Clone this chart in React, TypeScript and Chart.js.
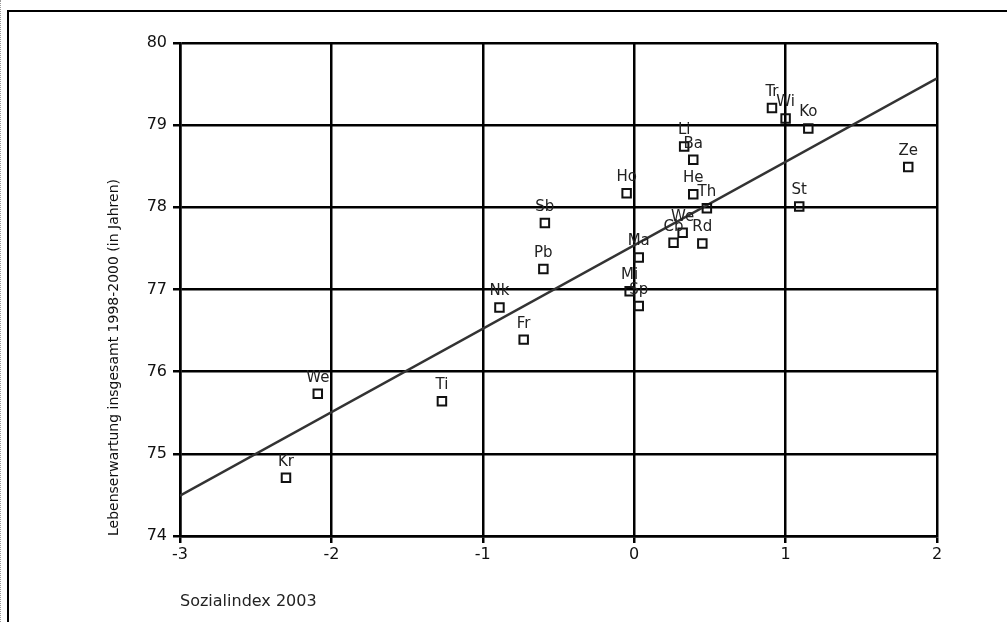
import React, { useEffect, useRef } from "react";
import { Chart, registerables } from "chart.js";

Chart.register(...registerables);

// District abbreviations (point labels)
const districts = [
  "Kr", "We", "Ti", "Nk", "Fr", "Pb", "Sb", "Ho", "Ma", "Mi", "Sp", "We",
  "Cb", "Rd", "Li", "Ba", "He", "Th", "Tr", "Wi", "Ko", "St", "Ze",
];
// Sozialindex 2003 (x)
const socialIndex = [
  -2.3, -2.09, -1.27, -0.89, -0.73, -0.6, -0.59, -0.05, 0.03, -0.03, 0.03, 0.32,
  0.26, 0.45, 0.33, 0.39, 0.39, 0.48, 0.91, 1.0, 1.15, 1.09, 1.81,
];
// Lebenserwartung 1998-2000 (y)
const lifeExpectancy = [
  74.71, 75.73, 75.64, 76.78, 76.39, 77.25, 77.81, 78.17, 77.39, 76.98, 76.8, 77.69,
  77.57, 77.56, 78.74, 78.58, 78.16, 77.99, 79.21, 79.08, 78.96, 78.01, 78.49,
];
// Linear trend line end points
const trendX = [-3, 2];
const trendY = [74.49, 79.57];
// Axis ticks
const xTicks = [-3, -2, -1, 0, 1, 2];
const yTicks = [74, 75, 76, 77, 78, 79, 80];

const FONT = "'DejaVu Sans', sans-serif";

const labelPlugin = {
  id: "pointLabels",
  afterDatasetsDraw(chart: any) {
    const meta = chart.getDatasetMeta(1);
    const ctx = chart.ctx;
    ctx.save();
    ctx.font = `15px ${FONT}`;
    ctx.fillStyle = "#222";
    ctx.textAlign = "center";
    ctx.textBaseline = "middle";
    meta.data.forEach((el: any, i: number) => {
      ctx.fillText(districts[i], el.x, el.y - 16);
    });
    ctx.restore();
  },
};

export default function App() {
  const ref = useRef<HTMLCanvasElement>(null);

  useEffect(() => {
    if (!ref.current) return;
    const chart = new Chart(ref.current, {
      type: "scatter",
      data: {
        datasets: [
          {
            type: "line",
            data: trendX.map((x, i) => ({ x, y: trendY[i] })),
            borderColor: "#333",
            borderWidth: 2.5,
            pointRadius: 0,
            fill: false,
            order: 1,
          } as any,
          {
            data: districts.map((_, i) => ({ x: socialIndex[i], y: lifeExpectancy[i] })),
            pointStyle: "rect",
            pointRadius: 6,
            borderColor: "#111",
            borderWidth: 2,
            backgroundColor: "rgba(0,0,0,0)",
            order: 0,
          },
        ],
      },
      options: {
        responsive: false,
        animation: false,
        devicePixelRatio: 1,
        layout: { padding: { top: 43, right: 70, bottom: 0, left: 100 } },
        plugins: { legend: { display: false }, tooltip: { enabled: false } },
        scales: {
          x: {
            type: "linear",
            min: -3,
            max: 2,
            afterBuildTicks: (s: any) => {
              s.ticks = xTicks.map((v) => ({ value: v }));
            },
            afterFit: (s: any) => {
              s.height = 86;
            },
            grid: { color: "#000", lineWidth: 2.5, tickLength: 7 },
            border: { color: "#000", width: 2.5 },
            ticks: { font: { family: FONT, size: 16 }, color: "#111", padding: 2 },
            title: {
              display: true,
              text: "Sozialindex 2003",
              align: "start",
              font: { family: FONT, size: 16 },
              color: "#222",
              padding: { top: 0, bottom: 11 },
            },
          },
          y: {
            type: "linear",
            min: 74,
            max: 80,
            afterBuildTicks: (s: any) => {
              s.ticks = yTicks.map((v) => ({ value: v }));
            },
            afterFit: (s: any) => {
              s.width = 80;
            },
            grid: { color: "#000", lineWidth: 2.5, tickLength: 7 },
            border: { color: "#000", width: 2.5 },
            ticks: { font: { family: FONT, size: 16 }, color: "#111", padding: 6 },
            title: {
              display: true,
              text: "Lebenserwartung insgesamt 1998-2000 (in Jahren)",
              align: "start",
              font: { family: FONT, size: 14 },
              color: "#111",
              padding: { top: 6, bottom: 0 },
            },
          },
        },
      },
      plugins: [labelPlugin],
    });
    return () => chart.destroy();
  }, []);

  return (
    <div
      style={{
        position: "fixed",
        left: 0,
        top: 0,
        width: 1007,
        height: 622,
        overflow: "hidden",
        background: "#fff",
      }}
    >
      <div
        style={{
          position: "absolute",
          left: 0,
          top: 0,
          bottom: 0,
          width: 0,
          borderLeft: "1px dotted #999",
        }}
      />
      <div
        style={{
          position: "absolute",
          left: 7,
          top: 10,
          right: -10,
          bottom: -10,
          borderTop: "2px solid #000",
          borderLeft: "2px solid #000",
        }}
      />
      <canvas
        ref={ref}
        width={1007}
        height={622}
        style={{ position: "absolute", left: 0, top: 0, width: 1007, height: 622 }}
      />
    </div>
  );
}
